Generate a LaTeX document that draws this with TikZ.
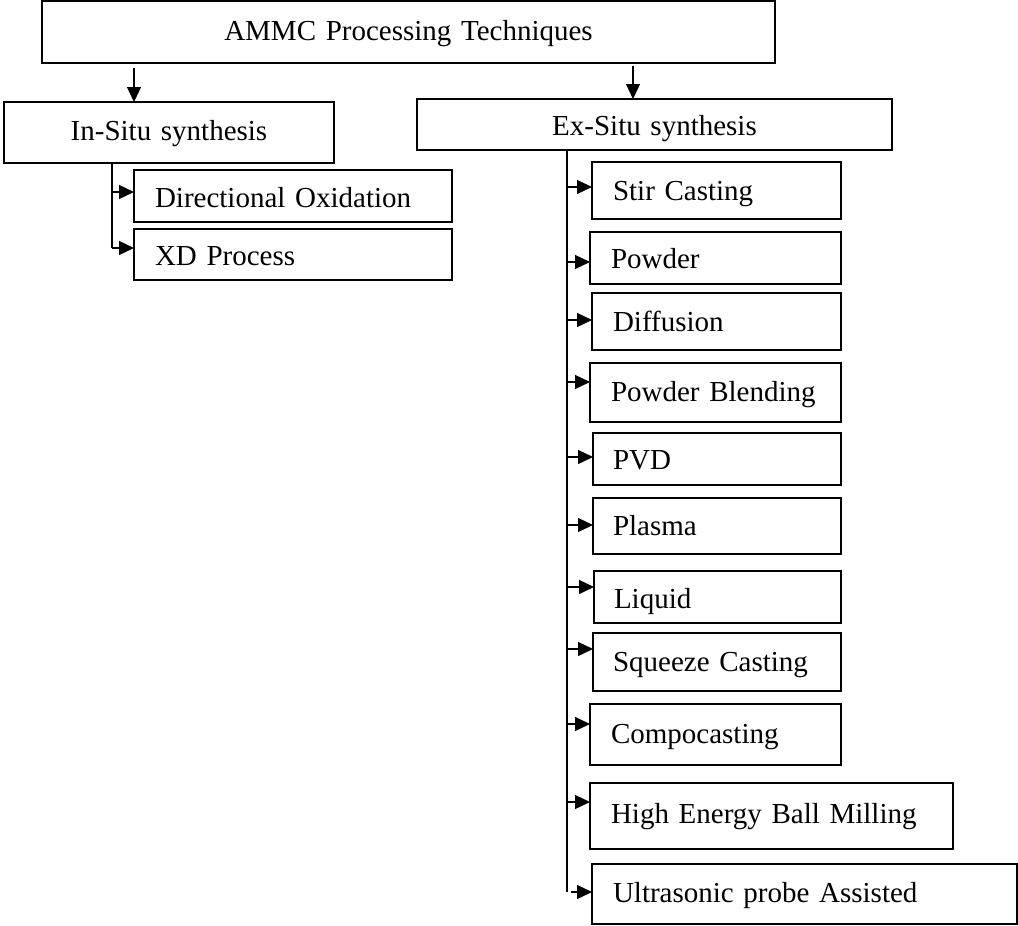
\documentclass[tikz,border=0pt]{standalone}
\usepackage{fontspec}
\setmainfont{Liberation Serif}
\usetikzlibrary{arrows.meta}
\tikzset{
  box/.style={draw, line width=0.65pt, outer sep=0pt, inner ysep=0pt,
    font=\fontsize{14.5}{17}\selectfont, text depth=0pt},
  arr/.style={line width=0.65pt, -{Triangle[length=7.5pt,width=7pt]}},
  trunkline/.style={line width=0.65pt}
}
% name, x1, y1, x2, y2, inset, align, text offset (px, down), text
\newcommand\mkbox[9]{%
  \pgfmathsetmacro\bxw{(#4-#2)*0.5}%
  \pgfmathsetmacro\bxh{(#5-#3)*0.5}%
  \pgfmathsetmacro\bxt{(#4-#2-2*#6)*0.5}%
  \pgfmathsetmacro\bxi{#6*0.5}%
  \pgfmathsetmacro\bxth{0.662*14.5+#8*0.5}%
  \node[box, anchor=north west, minimum width=\bxw pt, minimum height=\bxh pt,
        text width=\bxt pt, inner xsep=\bxi pt, align=#7, text height=\bxth pt]
        (#1) at (#2,#3) {#9};%
}
\begin{document}
\begin{tikzpicture}[x=0.5pt,y=-0.5pt]
\useasboundingbox (0,0) rectangle (1018,926);

\mkbox{top}{42}{1}{775}{63}{0}{center}{-1.5}{AMMC Processing Techniques}
\mkbox{insitu}{4}{102}{334}{163}{0}{center}{-2.5}{In-Situ synthesis}
\mkbox{exsitu}{417}{99}{892}{150}{0}{center}{3}{Ex-Situ synthesis}

\mkbox{dir}{134}{170}{452}{222}{21}{left}{3.5}{Directional Oxidation}
\mkbox{xd}{134}{229}{452}{280}{21}{left}{3}{XD Process}

\mkbox{stir}{592}{162}{841}{219}{21}{left}{0}{Stir Casting}
\mkbox{powder}{590}{232}{841}{284}{21}{left}{2}{Powder}
\mkbox{diff}{592}{293}{841}{350}{21}{left}{0}{Diffusion}
\mkbox{pb}{590}{363}{841}{422}{21}{left}{-1}{Powder Blending}
\mkbox{pvd}{593}{433}{841}{485}{20}{left}{2.5}{PVD}
\mkbox{plasma}{593}{498}{841}{554}{20}{left}{0}{Plasma}
\mkbox{liquid}{594}{571}{841}{623}{20}{left}{3}{Liquid}
\mkbox{squeeze}{593}{633}{841}{691}{20}{left}{0}{Squeeze Casting}
\mkbox{compo}{590}{704}{841}{765}{21}{left}{-1.5}{Compocasting}
\mkbox{hebm}{590}{783}{953}{849}{21}{left}{-3.5}{High Energy Ball Milling}
\mkbox{ultra}{592}{864}{1017}{924}{21}{left}{-1.5}{Ultrasonic probe Assisted}

% top-level arrows
\coordinate (a1) at (134,68);
\coordinate (a2) at (633,66);
\draw[arr] (a1) -- (a1 |- insitu.north);
\draw[arr] (a2) -- (a2 |- exsitu.north);

% in-situ tree
\coordinate (t1) at (112,163);
\coordinate (t1end) at (112,248);
\draw[trunkline] (t1) -- (t1end);
\draw[arr] (t1 |- 0,192) -- (dir.west |- 0,192);
\draw[arr] (t1end) -- (xd.west |- t1end);

% ex-situ tree
\coordinate (t2) at (567,150);
\coordinate (t2end) at (567,892);
\draw[trunkline] (t2) -- (t2end);
\foreach \nm/\yy in {stir/187, powder/262, diff/320, pb/382, pvd/457, plasma/525,
                     liquid/587, squeeze/649, compo/724, hebm/802}
  \draw[arr] (t2 |- 0,\yy) -- (\nm.west |- 0,\yy);
\draw[arr] ([xshift=2pt]t2end) -- (ultra.west |- t2end);
\end{tikzpicture}
\end{document}
